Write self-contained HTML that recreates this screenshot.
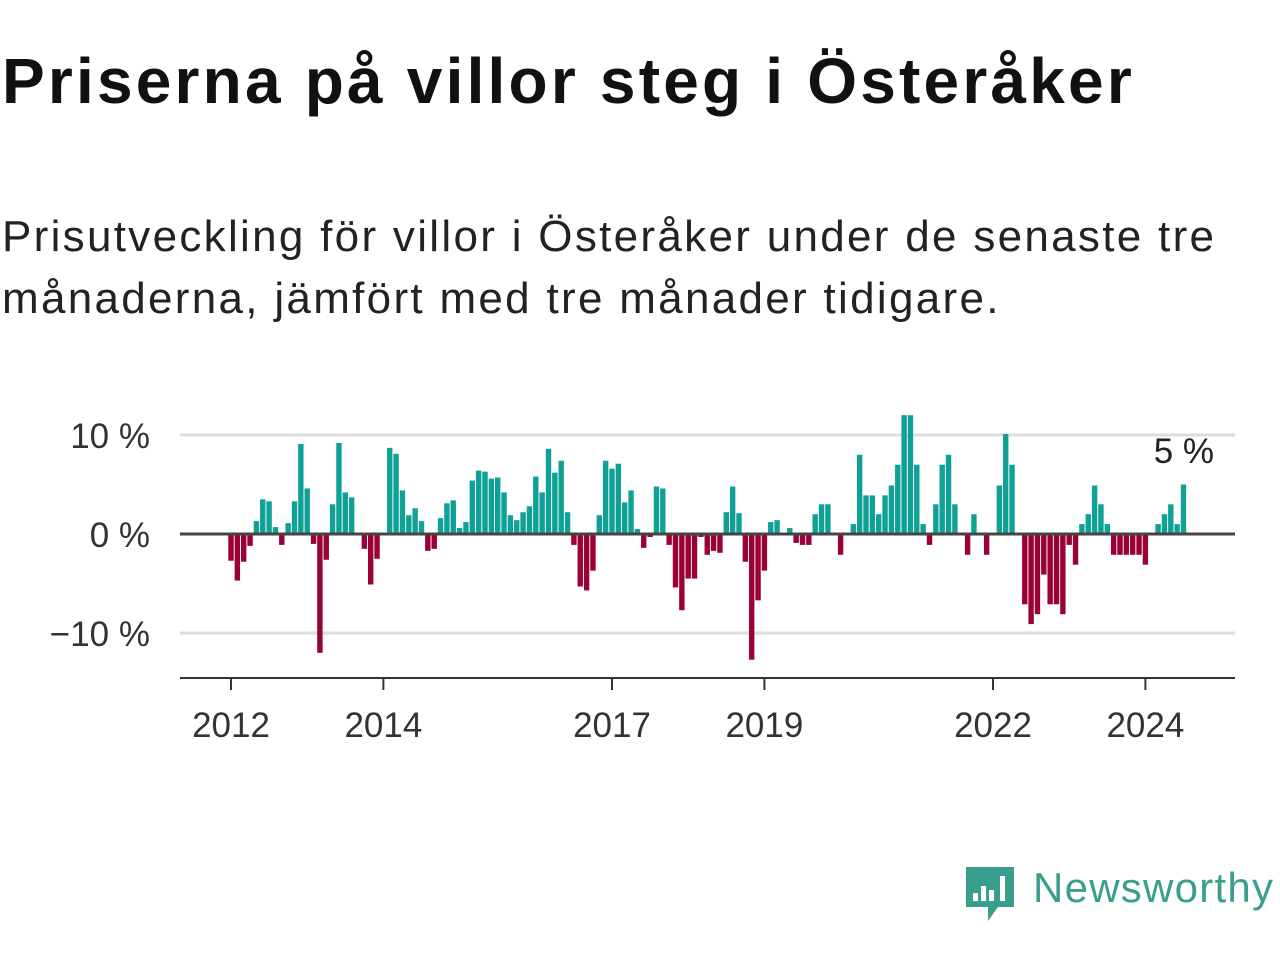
<!DOCTYPE html>
<html><head><meta charset="utf-8"><style>
body{margin:0;background:#fff;width:1280px;height:960px;overflow:hidden;font-family:"Liberation Sans",sans-serif;}
#t{position:absolute;left:2px;top:44px;font-size:64px;line-height:74px;font-weight:bold;color:#111;margin:0;letter-spacing:3.2px;white-space:nowrap}
#s{position:absolute;left:2px;top:206px;font-size:44px;line-height:62px;color:#222;margin:0;width:1275px;white-space:nowrap;letter-spacing:2.3px}
svg{position:absolute;left:0;top:0}
</style></head><body>
<h1 id="t">Priserna på villor steg i Österåker</h1>
<p id="s">Prisutveckling för villor i Österåker under de senaste tre<br>månaderna, jämfört med tre månader tidigare.</p>
<svg id="c" width="1280" height="960"></svg>
<script>
const values=[-2.7,-4.7,-2.8,-1.2,1.3,3.5,3.3,0.7,-1.1,1.1,3.3,9.1,4.6,-1.0,-12,-2.6,3.0,9.2,4.2,3.7,0,-1.5,-5.1,-2.5,
0,8.7,8.1,4.4,1.9,2.6,1.3,-1.7,-1.5,1.6,3.1,3.4,0.6,1.2,5.4,6.4,6.3,5.6,5.7,4.2,1.9,1.4,2.2,2.8,
5.8,4.2,8.6,6.2,7.4,2.2,-1.1,-5.3,-5.7,-3.7,1.9,7.4,6.6,7.1,3.2,4.4,0.5,-1.4,-0.3,4.8,4.6,-1.1,-5.4,-7.7,
-4.5,-4.5,-0.3,-2.1,-1.7,-1.9,2.2,4.8,2.1,-2.8,-12.7,-6.7,-3.7,1.2,1.4,0.1,0.6,-0.9,-1.1,-1.1,2.0,3.0,
3.0,0,-2.1,0,1.0,8.0,3.9,3.9,2.0,3.9,4.9,7.0,12.0,12.0,7.0,1.0,-1.1,3.0,7.0,8.0,3.0,0,-2.1,2.0,
0,-2.1,0,4.9,10.1,7.0,0,-7.1,-9.1,-8.1,-4.1,-7.1,-7.1,-8.1,-1.1,-3.1,1.0,2.0,4.9,3.0,1.0,-2.1,-2.1,-2.1,
-2.1,-2.1,-3.1,0,1.0,2.0,3.0,1.0,5.0];
const yTicks=[10,0,-10];
const yTickLabels=["10 %","0 %","\u221210 %"];
const xTicks=[2012,2014,2017,2019,2022,2024];
const lastLabel="5 %";
const NS="http://www.w3.org/2000/svg",svg=document.getElementById('c');
const x=i=>231+6.35*i, xy=yr=>x((yr-2012)*12), y=v=>534-9.9*v;
function mk(t,a){const e=document.createElementNS(NS,t);for(const k in a)e.setAttribute(k,a[k]);svg.appendChild(e);return e;}
yTicks.forEach((v,k)=>{
 if(v!==0){const g=mk('line',{x1:180,x2:1235,y1:y(v),y2:y(v),stroke:'#ddd','stroke-width':3});
 
 }
 const t=mk('text',{x:150,y:y(v)+13,'text-anchor':'end','font-size':35,fill:'#333'});
 t.textContent=yTickLabels[k];
 
 
});
values.forEach((v,i)=>{
 if(v===0)return;
 const r=mk('rect',{x:x(i)-2.7,width:5.4,y:Math.min(y(v),534),height:Math.abs(y(v)-534),fill:v>0?'#0fa195':'#9b0036'});
 
 
});
const z=mk('line',{x1:180,x2:1235,y1:534,y2:534,stroke:'#444','stroke-width':3});


const ax=mk('line',{x1:180,x2:1235,y1:678,y2:678,stroke:'#333','stroke-width':2});


xTicks.forEach(yr=>{
 const l=mk('line',{x1:xy(yr),x2:xy(yr),y1:678,y2:690,stroke:'#333','stroke-width':2});
 
 
 const t=mk('text',{x:xy(yr),y:737,'text-anchor':'middle','font-size':35,fill:'#333'});
 t.textContent=yr;
 
 
});
const ll=mk('text',{x:1214,y:463,'text-anchor':'end','font-size':35,fill:'#222'});
ll.textContent=lastLabel;


</script>
<svg width="1280" height="960">
<path d="M966 867h48v40h-16l-10 14v-14h-22z" fill="#3a9e8e"/>
<rect x="973" y="893" width="5" height="8" fill="#fff"/><rect x="981" y="886" width="5" height="15" fill="#fff"/><rect x="989" y="890" width="5" height="11" fill="#fff"/><rect x="1000" y="876" width="5" height="25" fill="#fff"/>
<text x="1033" y="902" font-size="42" fill="#3a9e8e" font-family="Liberation Sans, sans-serif" textLength="240">Newsworthy</text>
</svg>
</body></html>
